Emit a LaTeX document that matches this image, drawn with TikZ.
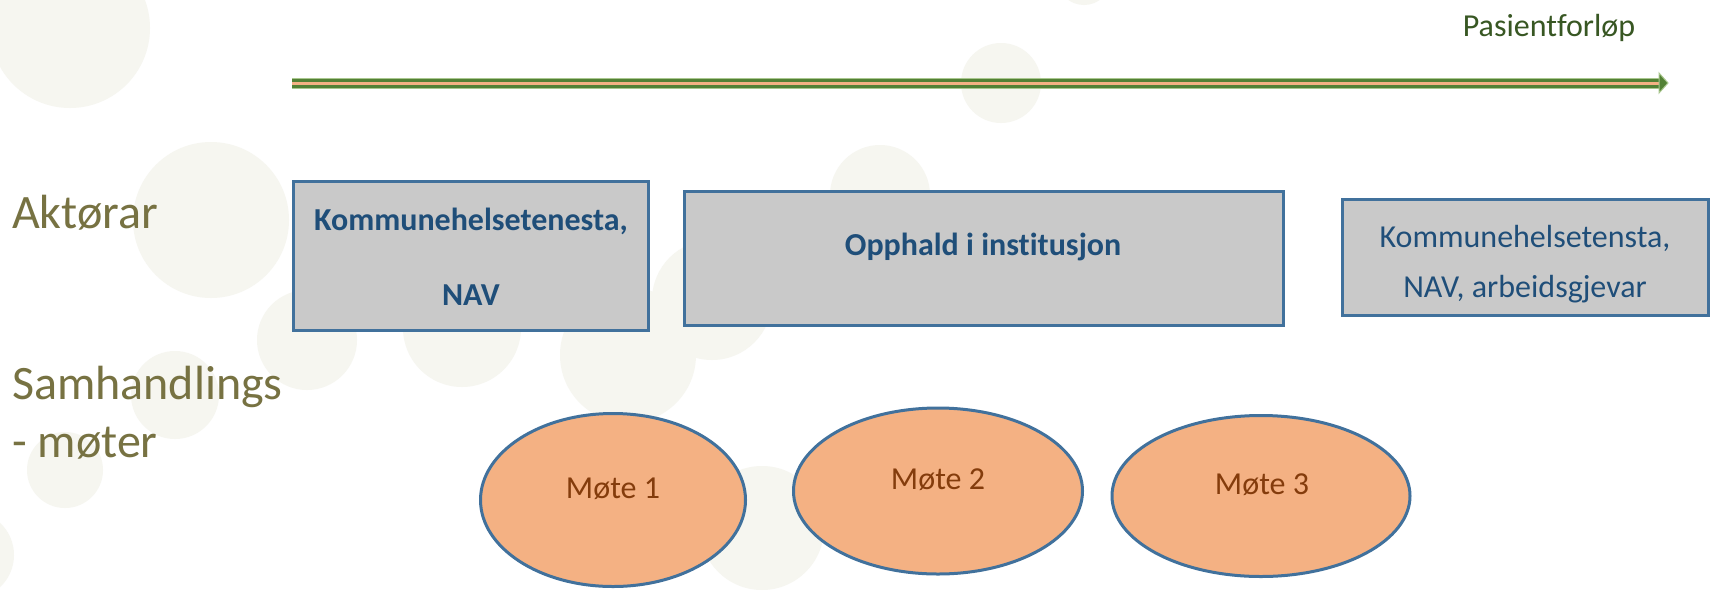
\documentclass[tikz,border=0pt]{standalone}
\usepackage{fontspec}
\setmainfont{Carlito}[Ligatures=NoCommon]
\usetikzlibrary{shapes.geometric}
\definecolor{bgdot}{RGB}{246,246,240}
\definecolor{arrgreen}{RGB}{83,129,53}
\definecolor{arredge}{RGB}{169,199,142}
\definecolor{arrorange}{RGB}{244,177,131}
\definecolor{titlegreen}{RGB}{56,87,35}
\definecolor{olive}{RGB}{119,114,66}
\definecolor{boxfill}{RGB}{201,201,201}
\definecolor{boxline}{RGB}{65,113,156}
\definecolor{boxtext}{RGB}{31,78,121}
\definecolor{ellfill}{RGB}{244,177,131}
\definecolor{elltext}{RGB}{132,60,12}
\begin{document}
\begin{tikzpicture}[x=1pt,y=-1pt,
  bgcirc/.style={fill=bgdot},
  actbox/.style={draw=boxline, line width=3pt, fill=boxfill, rectangle, inner sep=0pt},
  boxtxt/.style={text=boxtext, inner sep=0pt, font=\fontsize{32pt}{38pt}\selectfont},
  boldtxt/.style={boxtxt, font=\fontsize{32pt}{38pt}\selectfont\bfseries},
  moteell/.style={draw=boxline, line width=3pt, fill=ellfill, ellipse, inner sep=0pt},
  motetxt/.style={text=elltext, inner sep=0pt, font=\fontsize{32pt}{38pt}\selectfont},
  lbl/.style={text=olive, inner sep=0pt, font=\fontsize{48pt}{58pt}\selectfont},
  ttl/.style={text=titlegreen, inner sep=0pt, font=\fontsize{32pt}{38pt}\selectfont}]
\useasboundingbox (0,0) rectangle (1713,590);
\fill[white] (0,0) rectangle (1713,590);
% faint background dots
\fill[bgcirc] (70,28) circle (80);
\fill[bgcirc] (211,220) circle (78);
\fill[bgcirc] (307,340) circle (50);
\fill[bgcirc] (462,328) circle (59);
\fill[bgcirc] (628,355) circle (68);
\fill[bgcirc] (175,395) circle (44);
\fill[bgcirc] (65,470) circle (38);
\fill[bgcirc] (-30,555) circle (44);
\fill[bgcirc] (762,528) circle (62);
\fill[bgcirc] (1001,83) circle (40);
\fill[bgcirc] (880,195) circle (50);
\fill[bgcirc] (712,300) circle (60);
\fill[bgcirc] (1084,-22) circle (27);
% timeline arrow
\coordinate (arrS) at (292,83);
\coordinate (arrE) at (1668,83);
\coordinate (arrB) at (1660,83);
\draw[arredge, line width=11pt] (arrS) -- (arrB);
\draw[arrgreen, line width=9pt] (arrS) -- (arrB);
\draw[arrorange, line width=3pt] (arrS) -- (arrB);
\filldraw[fill=arrgreen, draw=arredge, line width=1pt, line join=miter] (arrE) -- ++(-9,-10) -- ++(0,20) -- cycle;
\node[ttl, anchor=base] (title) at (1549,36) {Pasientforløp};
% row labels
\node[lbl, anchor=base west] (lab1) at (12,228) {Aktørar};
\node[lbl, anchor=base west] (lab2) at (12,399) {Samhandlings};
\node[lbl, anchor=base west] (lab3) at (12,457) {- møter};
% actor boxes
\node[actbox, minimum width=355pt, minimum height=149pt] (b1) at (471,256) {};
\node[actbox, minimum width=599pt, minimum height=134pt] (b2) at (984,258.5) {};
\node[actbox, minimum width=366pt, minimum height=116pt] (b3) at (1525.5,257.5) {};
\node[boldtxt, anchor=base] (b1a) at (471,230) {Kommunehelsetenesta,};
\node[boldtxt, anchor=base] (b1b) at (471,305) {NAV};
\node[boldtxt, anchor=base] (b2a) at (983,255) {Opphald i institusjon};
\node[boxtxt, anchor=base] (b3a) at (1525,247) {Kommunehelsetensta,};
\node[boxtxt, anchor=base] (b3b) at (1525,297) {NAV, arbeidsgjevar};
% meeting ellipses
\node[moteell, minimum width=265pt, minimum height=173pt] (e1) at (613,500) {};
\node[moteell, minimum width=289pt, minimum height=166pt] (e2) at (938,491) {};
\node[moteell, minimum width=298pt, minimum height=161pt] (e3) at (1261,496) {};
\node[motetxt, anchor=base] (m1) at (613,498) {Møte 1};
\node[motetxt, anchor=base] (m2) at (938,489) {Møte 2};
\node[motetxt, anchor=base] (m3) at (1262,494) {Møte 3};
\end{tikzpicture}
\end{document}
